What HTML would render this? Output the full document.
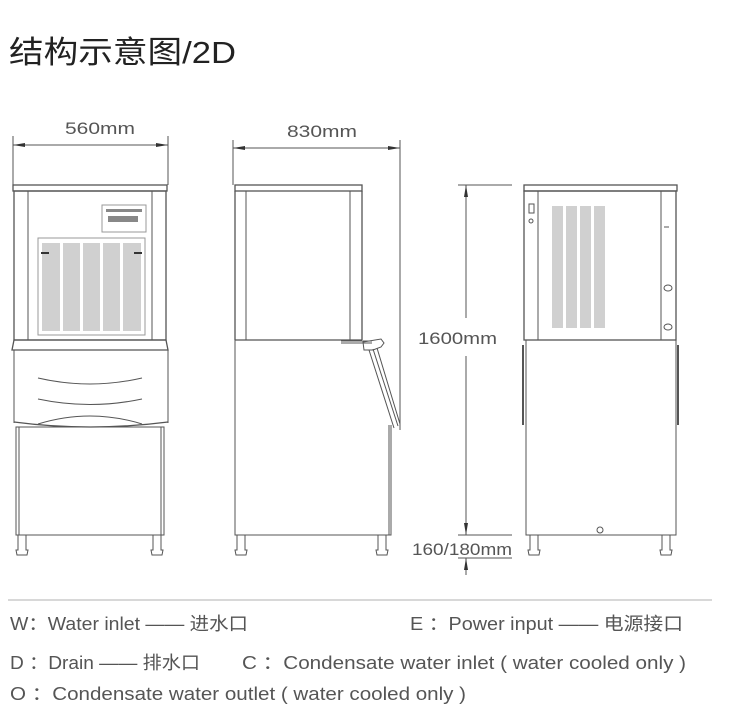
<!DOCTYPE html>
<html><head><meta charset="utf-8"><style>
html,body{margin:0;padding:0;background:#fff;width:750px;height:714px;overflow:hidden}
svg{display:block}
text{font-family:"Liberation Sans","Noto Sans CJK SC",sans-serif}
</style></head><body>
<svg width="750" height="714" viewBox="0 0 750 714" xmlns="http://www.w3.org/2000/svg">
<defs>
<marker id="ar" markerWidth="12" markerHeight="6" refX="12" refY="3" orient="auto" markerUnits="userSpaceOnUse"><path d="M0,1 L12,3 L0,5 z" fill="#333"/></marker>
<marker id="al" markerWidth="12" markerHeight="6" refX="0" refY="3" orient="auto" markerUnits="userSpaceOnUse"><path d="M12,1 L0,3 L12,5 z" fill="#333"/></marker>
</defs>
<text x="9" y="63" font-size="31" fill="#222" textLength="227" lengthAdjust="spacingAndGlyphs">结构示意图/2D</text>

<g stroke="#555" stroke-width="1" fill="none">
<line x1="13" y1="136" x2="13" y2="185"/><line x1="168" y1="136" x2="168" y2="185"/>
<line x1="13" y1="145" x2="168" y2="145" marker-start="url(#al)" marker-end="url(#ar)"/>
<rect x="13" y="185" width="154" height="6" stroke-width="1.3"/>
<rect x="14" y="191" width="152" height="149" stroke-width="1.3"/>
<line x1="28" y1="191" x2="28" y2="340"/><line x1="152" y1="191" x2="152" y2="340"/>
<rect x="102" y="205" width="44" height="27" stroke="#999"/>
<rect x="38" y="238" width="107" height="97" stroke="#999"/>
<path d="M14,340 L166,340 L168,350 L12,350 Z" stroke-width="1.3"/>
<path d="M14,350 L14,423 M168,350 L168,423"/>
<path d="M14,422 Q90,432 168,422" stroke-width="1.3"/>
<path d="M38,378 Q90,390 142,378"/><path d="M38,399 Q90,410 142,399"/>
<path d="M38,424 Q90,408 142,424"/>
<rect x="16" y="427" width="148" height="108"/>
<line x1="19" y1="427" x2="19" y2="535"/><line x1="161" y1="427" x2="161" y2="535"/>
<path d="M18,535 v15 h-2 l1,5 h10 l1,-5 h-2 v-15"/>
<path d="M153,535 v15 h-2 l1,5 h10 l1,-5 h-2 v-15"/>

<line x1="233" y1="140" x2="233" y2="185"/><line x1="400" y1="140" x2="400" y2="430"/>
<line x1="233" y1="148" x2="400" y2="148" marker-start="url(#al)" marker-end="url(#ar)"/>
<rect x="235" y="185" width="127" height="6" stroke-width="1.3"/>
<path d="M235,191 V340 M362,191 V340" stroke-width="1.3"/>
<line x1="246" y1="191" x2="246" y2="340"/><line x1="350" y1="191" x2="350" y2="340"/>
<line x1="235" y1="340" x2="362" y2="340" stroke-width="1.3"/>
<path d="M235,340 V535 H391 V425"/>
<line x1="389" y1="425" x2="389" y2="535"/>
<path d="M341,341 H372 M341,343 H372"/>
<path d="M363,342 l18,-3 l3,4 l-3,4 l-8,3 l-9,0 z"/>
<path d="M369,350 L394,428 M373,349 L398,426 M377,348 L400,424"/>
<path d="M237,535 v15 h-2 l1,5 h10 l1,-5 h-2 v-15"/>
<path d="M378,535 v15 h-2 l1,5 h10 l1,-5 h-2 v-15"/>

<line x1="458" y1="185" x2="512" y2="185"/>
<line x1="466" y1="185" x2="466" y2="318" marker-start="url(#al)"/>
<line x1="466" y1="356" x2="466" y2="535" marker-end="url(#ar)"/>
<line x1="458" y1="535" x2="512" y2="535"/>
<line x1="458" y1="558" x2="512" y2="558"/>
<line x1="466" y1="558" x2="466" y2="575" marker-start="url(#al)"/>

<rect x="524" y="185" width="153" height="6" stroke-width="1.3"/>
<rect x="524" y="191" width="152" height="149" stroke-width="1.3"/>
<line x1="538" y1="191" x2="538" y2="340"/><line x1="661" y1="191" x2="661" y2="340"/>
<rect x="529" y="204" width="5" height="9"/><circle cx="531" cy="221" r="2"/>
<path d="M664,227 h5"/>
<ellipse cx="668" cy="288" rx="4" ry="3"/><ellipse cx="668" cy="327" rx="4" ry="3"/>
<path d="M526,340 V535 H676 V340"/>
<line x1="523" y1="345" x2="523" y2="425" stroke-width="2"/><line x1="678" y1="345" x2="678" y2="425" stroke-width="2"/>
<circle cx="600" cy="530" r="3"/>
<path d="M530,535 v15 h-2 l1,5 h10 l1,-5 h-2 v-15"/>
<path d="M662,535 v15 h-2 l1,5 h10 l1,-5 h-2 v-15"/>
</g>
<g fill="#d0d0d0">
<rect x="42" y="243" width="18" height="88"/><rect x="63" y="243" width="17" height="88"/><rect x="83" y="243" width="17" height="88"/><rect x="103" y="243" width="17" height="88"/><rect x="123" y="243" width="18" height="88"/>
<rect x="552" y="206" width="11" height="122"/><rect x="566" y="206" width="11" height="122"/><rect x="580" y="206" width="11" height="122"/><rect x="594" y="206" width="11" height="122"/>
</g>
<g fill="#333"><rect x="41" y="252" width="8" height="2"/><rect x="134" y="252" width="8" height="2"/></g>
<g fill="#888"><rect x="106" y="209" width="36" height="3"/><rect x="108" y="216" width="30" height="6"/></g>

<g fill="#555" font-size="17">
<text x="65" y="134" textLength="70" lengthAdjust="spacingAndGlyphs">560mm</text>
<text x="287" y="137" textLength="70" lengthAdjust="spacingAndGlyphs">830mm</text>
<text x="418" y="344" textLength="79" lengthAdjust="spacingAndGlyphs">1600mm</text>
<text x="412" y="555" textLength="100" lengthAdjust="spacingAndGlyphs">160/180mm</text>
</g>
<line x1="8" y1="600" x2="712" y2="600" stroke="#ccc" stroke-width="1.5"/>
<g fill="#555" font-size="18">
<text x="10" y="630" textLength="238" lengthAdjust="spacingAndGlyphs">W：Water inlet —— 进水口</text>
<text x="410" y="630" textLength="273" lengthAdjust="spacingAndGlyphs">E ：Power input —— 电源接口</text>
<text x="10" y="669" textLength="190" lengthAdjust="spacingAndGlyphs">D ：Drain —— 排水口</text>
<text x="242" y="669" textLength="444" lengthAdjust="spacingAndGlyphs">C ：Condensate water inlet ( water cooled only )</text>
<text x="10" y="700" textLength="456" lengthAdjust="spacingAndGlyphs">O ：Condensate water outlet ( water cooled only )</text>
</g>
</svg>
</body></html>
